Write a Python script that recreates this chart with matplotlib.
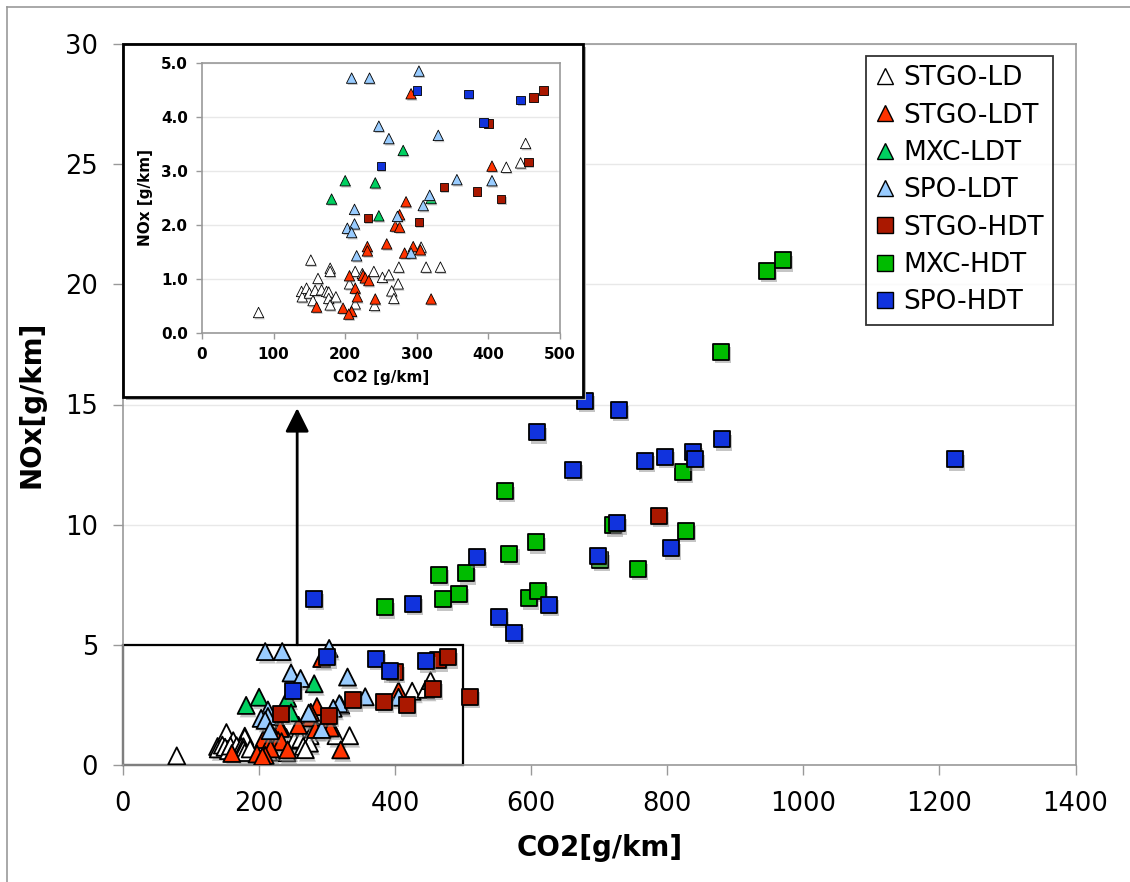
import matplotlib
matplotlib.use('Agg')
import matplotlib.pyplot as plt
import matplotlib.patheffects as pe
from matplotlib.patches import Rectangle
from matplotlib.lines import Line2D

# valores (CO2 g/km, NOx g/km)
stgo_ld_x = [79, 152, 162, 179, 179, 139, 140, 146, 150, 155, 158, 167, 174, 177, 177, 179, 187, 206,
             214, 224, 240, 252, 261, 275, 274, 265, 268, 214, 241, 306, 313, 333, 425, 445, 452]
stgo_ld_y = [0.38, 1.35, 1.01, 1.20, 1.14, 0.77, 0.67, 0.83, 0.74, 0.60, 0.79, 0.80, 0.77, 0.76, 0.64,
             0.52, 0.67, 0.91, 1.14, 1.10, 1.14, 1.03, 1.08, 1.22, 0.91, 0.78, 0.64, 0.54, 0.51, 1.59,
             1.22, 1.22, 3.07, 3.15, 3.51]

stgo_ldt_x = [292, 405, 285, 276, 270, 276, 231, 231, 258, 283, 295, 305, 206, 225, 228, 233, 214, 217,
              242, 320, 160, 197, 209, 205]
stgo_ldt_y = [4.43, 3.09, 2.43, 2.19, 1.98, 1.96, 1.60, 1.52, 1.65, 1.48, 1.60, 1.54, 1.06, 1.07, 1.02,
              0.97, 0.83, 0.67, 0.63, 0.63, 0.48, 0.46, 0.40, 0.35]

mxc_ldt_x = [181, 200, 242, 281, 247, 320]
mxc_ldt_y = [2.48, 2.82, 2.78, 3.38, 2.17, 2.49]

spo_ldt_x = [209, 234, 303, 247, 261, 330, 356, 405, 318, 309, 213, 273, 203, 213, 209, 216, 292]
spo_ldt_y = [4.72, 4.72, 4.85, 3.83, 3.60, 3.66, 2.84, 2.82, 2.55, 2.36, 2.29, 2.16, 1.94, 2.02, 1.86,
             1.43, 1.48]

stgo_hdt_x = [232, 303, 338, 384, 418, 456, 400, 463, 477, 510, 788]
stgo_hdt_y = [2.13, 2.05, 2.70, 2.62, 2.48, 3.17, 3.88, 4.36, 4.49, 2.83, 10.36]

mxc_hdt_x = [561, 823, 720, 828, 607, 568, 701, 757, 504, 494, 597, 610, 464, 470, 385, 947, 970, 879]
mxc_hdt_y = [11.40, 12.21, 9.97, 9.75, 9.26, 8.79, 8.54, 8.17, 7.98, 7.12, 6.94, 7.25, 7.91, 6.90, 6.56,
             20.57, 21.0, 17.2]

spo_hdt_x = [300, 372, 393, 445, 250, 679, 729, 608, 881, 661, 767, 797, 838, 841, 1223, 726, 520, 698,
             806, 626, 553, 574, 281, 426]
spo_hdt_y = [4.49, 4.43, 3.90, 4.32, 3.09, 15.16, 14.77, 13.84, 13.55, 12.28, 12.65, 12.83, 13.01, 12.72,
             12.73, 10.06, 8.67, 8.71, 9.01, 6.66, 6.17, 5.51, 6.92, 6.70]

series = [
    ('STGO-LD', stgo_ld_x, stgo_ld_y, '^', 'white'),
    ('STGO-LDT', stgo_ldt_x, stgo_ldt_y, '^', '#ff3300'),
    ('MXC-LDT', mxc_ldt_x, mxc_ldt_y, '^', '#00d060'),
    ('SPO-LDT', spo_ldt_x, spo_ldt_y, '^', '#99ccff'),
    ('STGO-HDT', stgo_hdt_x, stgo_hdt_y, 's', '#aa1800'),
    ('MXC-HDT', mxc_hdt_x, mxc_hdt_y, 's', '#00bb00'),
    ('SPO-HDT', spo_hdt_x, spo_hdt_y, 's', '#1133dd'),
]

GRAY = '#999999'


def style_axes(ax, labelsize, weight):
    for spine in ax.spines.values():
        spine.set_color(GRAY)
        spine.set_linewidth(1.2)
    ax.tick_params(direction='out', color=GRAY, labelsize=labelsize, width=1.0)
    for lab in ax.get_xticklabels() + ax.get_yticklabels():
        lab.set_fontweight(weight)
    ax.yaxis.grid(True, color='#e8e8e8', linewidth=1.0)
    ax.set_axisbelow(True)


def draw_points(ax, size_tri, size_sq, lw, shadow):
    for name, xs, ys, marker, color in series:
        size = size_tri if marker == '^' else size_sq
        sc = ax.scatter(xs, ys, s=size, marker=marker, facecolor=color, edgecolor='black',
                        linewidth=lw, zorder=3)
        sc.set_path_effects([pe.SimplePatchShadow(offset=shadow, shadow_rgbFace='0.55', alpha=0.5),
                             pe.Normal()])


fig = plt.figure(figsize=(11.3, 8.82), dpi=100)

# borde gris de la figura
fig.add_artist(Line2D([7 / 1130, 7 / 1130], [0, 1 - 7 / 882], transform=fig.transFigure,
                      color=GRAY, lw=1.2))
fig.add_artist(Line2D([7 / 1130, 1], [1 - 7 / 882, 1 - 7 / 882], transform=fig.transFigure,
                      color=GRAY, lw=1.2))

# grafico principal
ax = fig.add_axes([123 / 1130, 1 - 765 / 882, 952.5 / 1130, 721 / 882])
ax.set_xlim(0, 1400)
ax.set_ylim(0, 30)
ax.set_xticks(range(0, 1401, 200))
ax.set_yticks(range(0, 31, 5))
ax.tick_params(length=7)
ax.tick_params(axis='x', pad=12)
ax.tick_params(axis='y', pad=11)
style_axes(ax, 18.5, 'normal')
ax.set_xlabel('CO2[g/km]', fontsize=20, fontweight='bold', labelpad=12)
ax.set_ylabel('NOx[g/km]', fontsize=20, fontweight='bold', labelpad=14)

draw_points(ax, 150, 132, 1.3, (1.5, -2.5))

ax.add_patch(Rectangle((0, 0), 500, 5, fill=False, edgecolor='black', lw=1.6, zorder=2.5,
                       clip_on=False))
ax.annotate('', xy=(256, 14.85), xytext=(256, 5),
            arrowprops=dict(arrowstyle='-|>,head_length=0.9,head_width=0.45', color='black',
                            lw=2, mutation_scale=16, shrinkA=0, shrinkB=0))

# leyenda
handles = [Line2D([], [], linestyle='none', marker=m, markerfacecolor=c, markeredgecolor='black',
                  markersize=11, markeredgewidth=1.0, label=n) for n, xs, ys, m, c in series]
leg = fig.legend(handles=handles, loc='upper right', bbox_to_anchor=(1053 / 1130, 1 - 56 / 882),
                 fontsize=19, frameon=True, fancybox=False, borderaxespad=0, handlelength=0.7,
                 handletextpad=0.35, labelspacing=0.43, borderpad=0.35)
leg.get_frame().set_edgecolor('black')
leg.get_frame().set_linewidth(1.3)
leg.set_zorder(5)

# recuadro del zoom
box_l, box_b = 123 / 1130, 1 - 397 / 882
box_w, box_h = 460 / 1130, 353 / 882
fig.add_artist(Rectangle((box_l + 3 / 1130, box_b - 3 / 882), box_w, box_h, transform=fig.transFigure,
                         facecolor='#b0b0b0', edgecolor='none', zorder=1))
fig.add_artist(Rectangle((box_l, box_b), box_w, box_h, transform=fig.transFigure,
                         facecolor='white', edgecolor='black', lw=2, zorder=1.1))

ins = fig.add_axes([202 / 1130, 1 - 333 / 882, 358 / 1130, 270 / 882])
ins.set_zorder(2)
ins.set_xlim(0, 500)
ins.set_ylim(0, 5)
ins.set_xticks(range(0, 501, 100))
ins.set_yticks([0, 1, 2, 3, 4, 5])
ins.set_yticklabels(['0.0', '1.0', '2.0', '3.0', '4.0', '5.0'])
ins.tick_params(length=4, pad=6)
style_axes(ins, 11, 'bold')
ins.set_xlabel('CO2 [g/km]', fontsize=11, fontweight='bold', labelpad=6)
ins.set_ylabel('NOx [g/km]', fontsize=11, fontweight='bold', labelpad=6)

draw_points(ins, 56, 36, 0.6, (0.8, -1.2))

plt.savefig('out.png', dpi=100)
plt.close()
